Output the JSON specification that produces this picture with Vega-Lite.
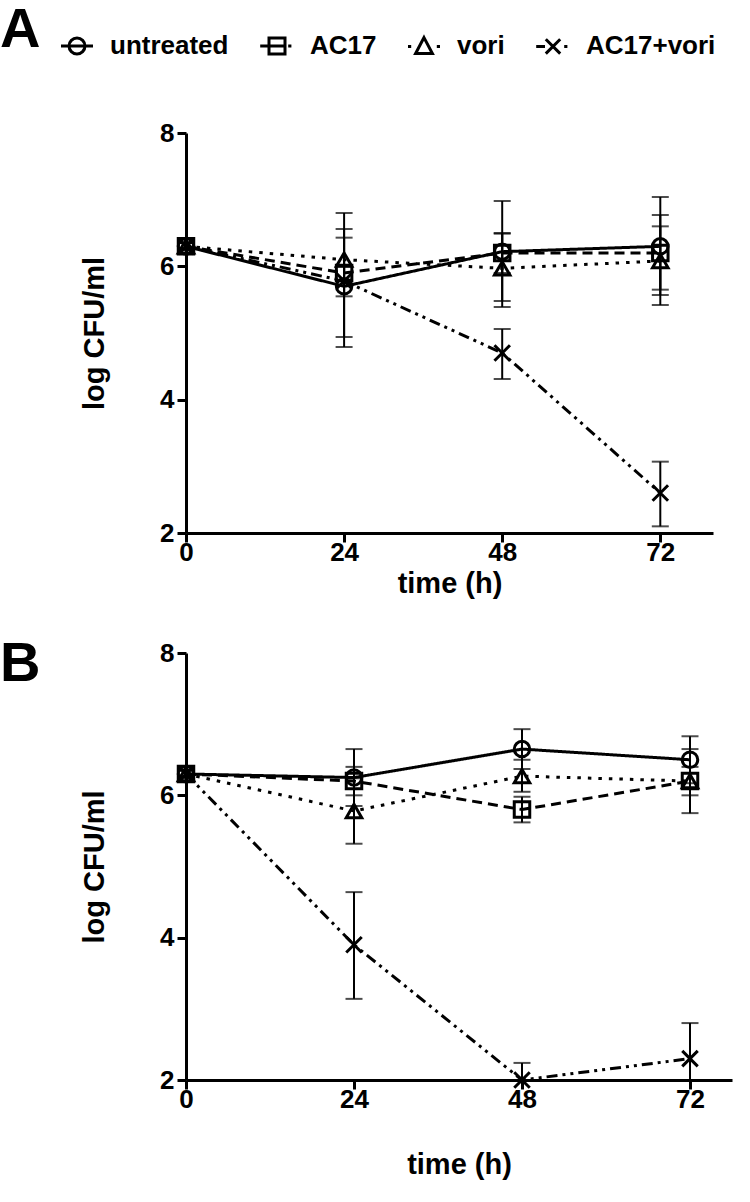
{
  "$schema": "https://vega.github.io/schema/vega-lite/v6.json",
  "background": "white",
  "padding": {"left": 0, "top": 2, "right": 5, "bottom": 5},
  "bounds": "flush",
  "spacing": 120,
  "config": {
    "view": {"stroke": null},
    "font": "Liberation Sans",
    "axis": {
      "domainColor": "black", "domainWidth": 3, "tickColor": "black", "tickWidth": 3, "tickSize": 9,
      "labelFont": "Liberation Sans", "labelFontSize": 26, "labelFontWeight": "bold", "labelColor": "black",
      "titleFont": "Liberation Sans", "titleFontSize": 29, "titleFontWeight": "bold", "titleColor": "black",
      "grid": false, "labelPadding": 3, "labelFlush": false
    },
    "axisX": {"labelPadding": -3},
    "axisY": {"titlePadding": 50, "format": "d"},
    "title": {"font": "Liberation Sans", "fontSize": 56, "fontWeight": "bold", "color": "black", "anchor": "start", "frame": "group"}
  },
  "datasets": {
    "cfu": [
      {"panel": "A", "series": "untreated", "time": 0, "value": 6.3, "lo": 6.25, "hi": 6.35},
      {"panel": "A", "series": "untreated", "time": 24, "value": 5.7, "lo": 4.79, "hi": 6.56},
      {"panel": "A", "series": "untreated", "time": 48, "value": 6.22, "lo": 5.48, "hi": 6.98},
      {"panel": "A", "series": "untreated", "time": 72, "value": 6.3, "lo": 5.57, "hi": 7.04},
      {"panel": "A", "series": "AC17", "time": 0, "value": 6.3, "lo": 6.25, "hi": 6.35},
      {"panel": "A", "series": "AC17", "time": 24, "value": 5.9, "lo": 4.94, "hi": 6.8},
      {"panel": "A", "series": "AC17", "time": 48, "value": 6.2, "lo": 5.9, "hi": 6.49},
      {"panel": "A", "series": "AC17", "time": 72, "value": 6.2, "lo": 5.65, "hi": 6.77},
      {"panel": "A", "series": "vori", "time": 0, "value": 6.3, "lo": 6.25, "hi": 6.35},
      {"panel": "A", "series": "vori", "time": 24, "value": 6.1, "lo": 5.8, "hi": 6.43},
      {"panel": "A", "series": "vori", "time": 48, "value": 5.97, "lo": 5.39, "hi": 6.5},
      {"panel": "A", "series": "vori", "time": 72, "value": 6.08, "lo": 5.42, "hi": 6.6},
      {"panel": "A", "series": "AC17+vori", "time": 0, "value": 6.3, "lo": 6.25, "hi": 6.35},
      {"panel": "A", "series": "AC17+vori", "time": 24, "value": 5.78, "lo": 5.55, "hi": 6.0},
      {"panel": "A", "series": "AC17+vori", "time": 48, "value": 4.7, "lo": 4.31, "hi": 5.06},
      {"panel": "A", "series": "AC17+vori", "time": 72, "value": 2.6, "lo": 2.1, "hi": 3.07},
      {"panel": "B", "series": "untreated", "time": 0, "value": 6.3, "lo": 6.25, "hi": 6.35},
      {"panel": "B", "series": "untreated", "time": 24, "value": 6.25, "lo": 5.85, "hi": 6.65},
      {"panel": "B", "series": "untreated", "time": 48, "value": 6.65, "lo": 6.37, "hi": 6.93},
      {"panel": "B", "series": "untreated", "time": 72, "value": 6.5, "lo": 6.17, "hi": 6.83},
      {"panel": "B", "series": "AC17", "time": 0, "value": 6.3, "lo": 6.25, "hi": 6.35},
      {"panel": "B", "series": "AC17", "time": 24, "value": 6.2, "lo": 6.0, "hi": 6.4},
      {"panel": "B", "series": "AC17", "time": 48, "value": 5.8, "lo": 5.62, "hi": 5.98},
      {"panel": "B", "series": "AC17", "time": 72, "value": 6.2, "lo": 5.75, "hi": 6.65},
      {"panel": "B", "series": "vori", "time": 0, "value": 6.3, "lo": 6.25, "hi": 6.35},
      {"panel": "B", "series": "vori", "time": 24, "value": 5.78, "lo": 5.32, "hi": 6.24},
      {"panel": "B", "series": "vori", "time": 48, "value": 6.27, "lo": 6.05, "hi": 6.5},
      {"panel": "B", "series": "vori", "time": 72, "value": 6.2, "lo": 6.0, "hi": 6.4},
      {"panel": "B", "series": "AC17+vori", "time": 0, "value": 6.3, "lo": 6.25, "hi": 6.35},
      {"panel": "B", "series": "AC17+vori", "time": 24, "value": 3.9, "lo": 3.14, "hi": 4.64},
      {"panel": "B", "series": "AC17+vori", "time": 48, "value": 2.0, "lo": 2.0, "hi": 2.24},
      {"panel": "B", "series": "AC17+vori", "time": 72, "value": 2.3, "lo": 2.0, "hi": 2.8}
    ]
  },
  "vconcat": [
    {
      "title": {"text": "A", "dx": -186, "offset": -26},
      "width": 527,
      "height": 400,
      "data": {"name": "cfu"},
      "transform": [{"filter": "datum.panel === 'A'"}],
      "encoding": {
        "x": {"field": "time", "type": "quantitative", "title": "time (h)",
              "scale": {"domain": [0, 80], "nice": false, "zero": false},
              "axis": {"values": [0, 24, 48, 72], "titlePadding": 4}}
      },
      "layer": [
        {
          "mark": {"type": "line", "color": "black", "strokeWidth": 3},
          "encoding": {
            "y": {"field": "value", "type": "quantitative", "title": "log CFU/ml",
                  "scale": {"domain": [2, 8], "nice": false, "zero": false},
                  "axis": {"values": [2, 4, 6, 8]}},
            "strokeDash": {"field": "series", "type": "nominal",
                           "scale": {"domain": ["untreated", "AC17", "vori", "AC17+vori"], "range": [[1, 0], [10, 6], [3.5, 7], [11, 5, 3, 5, 3, 5]]},
                           "legend": null}
          }
        },
        {
          "mark": {"type": "rule", "color": "black", "strokeWidth": 2},
          "encoding": {
            "y": {"field": "lo", "type": "quantitative", "title": "log CFU/ml"},
            "y2": {"field": "hi", "title": "log CFU/ml"}
          }
        },
        {
          "mark": {"type": "tick", "orient": "horizontal", "color": "black", "thickness": 2, "size": 17},
          "encoding": {"y": {"field": "lo", "type": "quantitative", "title": "log CFU/ml"}}
        },
        {
          "mark": {"type": "tick", "orient": "horizontal", "color": "black", "thickness": 2, "size": 17},
          "encoding": {"y": {"field": "hi", "type": "quantitative", "title": "log CFU/ml"}}
        },
        {
          "mark": {"type": "point", "filled": false, "color": "black", "strokeWidth": 3, "size": 240, "opacity": 1},
          "encoding": {
            "y": {"field": "value", "type": "quantitative", "title": "log CFU/ml"},
            "shape": {"field": "series", "type": "nominal",
                      "scale": {"domain": ["untreated", "AC17", "vori", "AC17+vori"], "range": ["circle", "square", "triangle-up", "M-1,-1L1,1M-1,1L1,-1"]},
                      "legend": null}
          }
        },
        {
          "mark": {"type": "point", "filled": false, "color": "black", "strokeWidth": 3, "opacity": 0},
          "encoding": {
            "y": {"field": "value", "type": "quantitative", "title": "log CFU/ml"},
            "shape": {"field": "series", "type": "nominal",
                      "scale": {"domain": ["untreated", "AC17", "vori", "AC17+vori"],
                                "range": [
                                  "M-2,0H2M1,0A1,1,0,1,1,-1,0A1,1,0,1,1,1,0",
                                  "M-2.1,0H1M-1,-1H1V1H-1ZM1.4,0H1.8",
                                  "M-2,0H-1.6M0,-1.1L1.05,0.9H-1.05ZM1.6,0H2",
                                  "M-2.1,0H-1M-0.9,-0.9L0.9,0.9M-0.9,0.9L0.9,-0.9M1.4,0H1.8"
                                ]},
                      "legend": {"orient": "none", "legendX": -122, "legendY": -100, "direction": "horizontal", "columns": 4, "title": null,
                                 "symbolSize": 256, "symbolStrokeWidth": 3, "symbolStrokeColor": "black", "symbolFillColor": "transparent", "symbolOpacity": 1,
                                 "labelFont": "Liberation Sans", "labelFontSize": 26, "labelFontWeight": "bold", "labelColor": "black",
                                 "labelOffset": 20, "columnPadding": 25, "labelLimit": 400}}
          }
        }
      ],
      "resolve": {"scale": {"shape": "independent"}}
    },
    {
      "title": {"text": "B", "dx": -186, "offset": -53},
      "width": 546,
      "height": 427,
      "data": {"name": "cfu"},
      "transform": [{"filter": "datum.panel === 'B'"}],
      "encoding": {
        "x": {"field": "time", "type": "quantitative", "title": "time (h)",
              "scale": {"domain": [0, 78], "nice": false, "zero": false},
              "axis": {"values": [0, 24, 48, 72], "titlePadding": 38}}
      },
      "layer": [
        {
          "mark": {"type": "line", "color": "black", "strokeWidth": 3},
          "encoding": {
            "y": {"field": "value", "type": "quantitative", "title": "log CFU/ml",
                  "scale": {"domain": [2, 8], "nice": false, "zero": false},
                  "axis": {"values": [2, 4, 6, 8]}},
            "strokeDash": {"field": "series", "type": "nominal",
                           "scale": {"domain": ["untreated", "AC17", "vori", "AC17+vori"], "range": [[1, 0], [10, 6], [3.5, 7], [11, 5, 3, 5, 3, 5]]},
                           "legend": null}
          }
        },
        {
          "mark": {"type": "rule", "color": "black", "strokeWidth": 2},
          "encoding": {
            "y": {"field": "lo", "type": "quantitative", "title": "log CFU/ml"},
            "y2": {"field": "hi", "title": "log CFU/ml"}
          }
        },
        {
          "mark": {"type": "tick", "orient": "horizontal", "color": "black", "thickness": 2, "size": 17},
          "encoding": {"y": {"field": "lo", "type": "quantitative", "title": "log CFU/ml"}}
        },
        {
          "mark": {"type": "tick", "orient": "horizontal", "color": "black", "thickness": 2, "size": 17},
          "encoding": {"y": {"field": "hi", "type": "quantitative", "title": "log CFU/ml"}}
        },
        {
          "mark": {"type": "point", "filled": false, "color": "black", "strokeWidth": 3, "size": 240, "opacity": 1},
          "encoding": {
            "y": {"field": "value", "type": "quantitative", "title": "log CFU/ml"},
            "shape": {"field": "series", "type": "nominal",
                      "scale": {"domain": ["untreated", "AC17", "vori", "AC17+vori"], "range": ["circle", "square", "triangle-up", "M-1,-1L1,1M-1,1L1,-1"]},
                      "legend": null}
          }
        }
      ]
    }
  ]
}
